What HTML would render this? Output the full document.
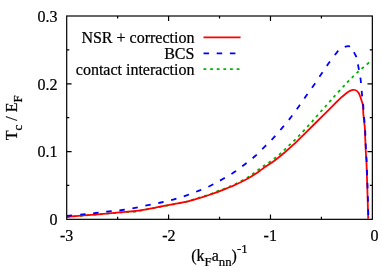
<!DOCTYPE html>
<html><head><meta charset="utf-8"><title>Tc/EF</title>
<style>
html,body{margin:0;padding:0;background:#fff;}
body{width:382px;height:267px;overflow:hidden;font-family:"Liberation Serif",serif;}
</style></head><body>
<svg width="382" height="267" viewBox="0 0 382 267" style="display:block;will-change:transform">
<rect x="0" y="0" width="382" height="267" fill="#fff"/>
<defs><clipPath id="c"><rect x="66.70" y="16.00" width="305.65" height="203.33"/></clipPath></defs>
<g fill="none" stroke-width="1.8" stroke-linejoin="round" clip-path="url(#c)">
<path d="M66.85,216.95C72.04,216.53 89.31,215.17 98.00,214.45C106.69,213.72 112.87,213.07 119.00,212.60C125.13,212.12 131.30,211.92 134.80,211.60C138.30,211.28 137.47,211.17 140.00,210.70C142.53,210.23 146.67,209.43 150.00,208.80C153.33,208.17 155.67,207.73 160.00,206.90C164.33,206.07 171.50,204.70 176.00,203.80C180.50,202.90 183.15,202.52 187.00,201.50C190.85,200.48 195.07,198.97 199.10,197.70C203.13,196.43 208.18,194.97 211.20,193.90C214.22,192.83 214.90,192.20 217.20,191.30C219.50,190.40 221.87,189.75 225.00,188.50C228.13,187.25 232.25,185.63 236.00,183.80C239.75,181.97 244.62,179.20 247.50,177.50C250.38,175.80 251.42,174.93 253.30,173.60C255.18,172.27 256.97,170.83 258.80,169.50C260.63,168.17 262.50,166.83 264.30,165.60C266.10,164.37 267.83,163.35 269.60,162.10C271.37,160.85 273.17,159.47 274.90,158.10C276.63,156.73 278.37,155.32 280.00,153.90C281.63,152.48 283.15,151.05 284.70,149.60C286.25,148.15 287.68,146.73 289.30,145.20C290.92,143.67 292.77,141.98 294.40,140.40C296.03,138.82 297.57,137.28 299.10,135.70C300.63,134.12 302.08,132.55 303.60,130.90C305.12,129.25 306.70,127.43 308.20,125.80C309.70,124.17 311.15,122.73 312.60,121.10C314.05,119.47 315.45,117.68 316.90,116.00C318.35,114.32 319.83,112.63 321.30,111.00C322.77,109.37 324.23,107.83 325.70,106.20C327.17,104.57 328.63,102.87 330.10,101.20C331.57,99.53 332.32,98.62 334.50,96.20C336.68,93.78 341.00,89.08 343.20,86.70C345.40,84.32 346.15,83.50 347.70,81.90C349.25,80.30 350.92,78.66 352.50,77.10C354.08,75.54 355.57,74.03 357.20,72.55C358.83,71.07 360.60,69.63 362.30,68.20C364.00,66.77 366.18,64.98 367.40,63.95C368.62,62.92 369.23,62.33 369.60,62.00" stroke="#00b400" stroke-dasharray="2.8 3.83"/>
<path d="M66.85,216.80C72.04,216.38 89.31,215.03 98.00,214.30C106.69,213.58 112.67,213.00 119.00,212.45C125.33,211.90 132.50,211.33 136.00,211.00C139.50,210.67 137.67,210.85 140.00,210.45C142.33,210.05 146.67,209.22 150.00,208.60C153.33,207.97 155.67,207.52 160.00,206.70C164.33,205.88 171.50,204.51 176.00,203.65C180.50,202.79 183.33,202.41 187.00,201.55C190.67,200.69 194.33,199.59 198.00,198.50C201.67,197.41 205.67,196.12 209.00,195.00C212.33,193.88 215.33,192.78 218.00,191.80C220.67,190.82 222.00,190.32 225.00,189.10C228.00,187.88 232.33,186.13 236.00,184.45C239.67,182.77 243.67,180.82 247.00,179.00C250.33,177.18 253.33,175.27 256.00,173.50C258.67,171.73 260.00,170.48 263.00,168.40C266.00,166.32 270.33,163.72 274.00,161.00C277.67,158.28 281.67,154.90 285.00,152.10C288.33,149.30 290.50,147.48 294.00,144.20C297.50,140.92 302.25,136.10 306.00,132.40C309.75,128.70 313.47,125.00 316.50,122.00C319.53,119.00 321.62,116.97 324.20,114.40C326.78,111.83 329.25,109.35 332.00,106.60C334.75,103.85 338.37,100.08 340.70,97.90C343.03,95.72 344.65,94.57 346.00,93.50C347.35,92.43 347.97,92.03 348.80,91.50C349.63,90.97 350.28,90.58 351.00,90.30C351.72,90.02 352.43,89.85 353.10,89.80C353.77,89.75 354.38,89.82 355.00,90.00C355.62,90.18 356.18,90.40 356.80,90.90C357.42,91.40 358.08,91.95 358.70,93.00C359.32,94.05 359.95,95.72 360.50,97.20C361.05,98.68 361.62,100.60 362.00,101.90C362.38,103.20 362.62,103.90 362.80,105.00C362.98,106.10 363.00,106.93 363.10,108.50C363.20,110.07 363.18,111.83 363.40,114.40C363.62,116.97 364.16,121.63 364.40,123.90C364.64,126.17 364.70,125.27 364.85,128.00C365.00,130.73 365.14,136.38 365.30,140.30C365.46,144.22 365.61,147.84 365.80,151.50C365.99,155.16 366.27,158.33 366.45,162.25C366.63,166.17 366.77,171.32 366.90,175.00C367.02,178.68 367.08,180.63 367.20,184.30C367.32,187.97 367.48,193.01 367.60,197.00C367.72,200.99 367.80,204.65 367.90,208.25C368.00,211.85 368.15,216.88 368.20,218.60" stroke="#ff0000"/>
</g>
<defs><clipPath id="c1"><rect x="66.70" y="16.00" width="284.30" height="203.33"/></clipPath>
<clipPath id="c2"><rect x="351.00" y="16.00" width="21.35" height="203.33"/></clipPath></defs>
<g fill="none" stroke-width="1.8" stroke-linejoin="round" stroke="#0000ff" stroke-dasharray="5.5 7.7">
<path d="M66.85,215.90C69.46,215.65 77.67,214.88 82.50,214.40C87.33,213.92 91.38,213.50 95.80,213.00C100.22,212.50 104.60,211.90 109.00,211.40C113.40,210.90 117.85,210.58 122.20,210.00C126.55,209.42 130.78,208.72 135.10,207.90C139.42,207.08 143.77,206.00 148.10,205.10C152.43,204.20 156.78,203.47 161.10,202.50C165.42,201.53 169.73,200.50 174.00,199.30C178.27,198.10 182.52,196.75 186.70,195.30C190.88,193.85 194.98,192.27 199.10,190.60C203.22,188.93 207.45,187.23 211.40,185.30C215.35,183.37 218.98,181.20 222.80,179.00C226.62,176.80 230.60,174.57 234.30,172.10C238.00,169.63 241.52,166.88 245.00,164.20C248.48,161.52 251.92,158.92 255.20,156.00C258.48,153.08 261.58,149.80 264.70,146.70C267.82,143.60 270.92,140.63 273.90,137.40C276.88,134.17 279.73,130.70 282.60,127.30C285.47,123.90 288.40,120.47 291.10,117.00C293.80,113.53 296.25,110.08 298.80,106.50C301.35,102.92 303.87,99.10 306.40,95.50C308.93,91.90 311.48,88.52 314.00,84.90C316.52,81.28 319.00,77.48 321.50,73.80C324.00,70.12 326.43,66.38 329.00,62.80C331.57,59.22 335.07,54.50 336.90,52.30C338.73,50.10 338.87,50.42 340.00,49.60C341.13,48.78 342.62,47.93 343.70,47.40C344.78,46.87 345.67,46.60 346.50,46.40C347.33,46.20 348.03,46.00 348.70,46.20C349.37,46.40 349.95,47.07 350.50,47.60C351.05,48.13 351.48,48.68 352.00,49.40C352.52,50.12 353.07,51.03 353.60,51.90C354.13,52.77 354.75,53.77 355.20,54.60C355.65,55.43 355.93,55.92 356.30,56.90C356.67,57.88 357.07,58.92 357.40,60.50C357.73,62.08 357.78,63.40 358.30,66.40C358.82,69.40 359.90,73.98 360.50,78.50C361.10,83.02 361.45,89.08 361.90,93.50C362.35,97.92 362.88,101.52 363.20,105.00C363.52,108.48 363.55,111.25 363.80,114.40C364.05,117.55 364.48,121.63 364.70,123.90C364.92,126.17 364.96,125.27 365.10,128.00C365.24,130.73 365.39,136.38 365.55,140.30C365.71,144.22 365.86,147.84 366.05,151.50C366.24,155.16 366.52,158.33 366.70,162.25C366.88,166.17 367.02,171.32 367.15,175.00C367.27,178.68 367.33,180.63 367.45,184.30C367.57,187.97 367.73,193.01 367.85,197.00C367.97,200.99 368.06,204.65 368.15,208.25C368.24,211.85 368.36,216.88 368.40,218.60" clip-path="url(#c1)"/>
<path d="M66.85,215.90C69.46,215.65 77.67,214.88 82.50,214.40C87.33,213.92 91.38,213.50 95.80,213.00C100.22,212.50 104.60,211.90 109.00,211.40C113.40,210.90 117.85,210.58 122.20,210.00C126.55,209.42 130.78,208.72 135.10,207.90C139.42,207.08 143.77,206.00 148.10,205.10C152.43,204.20 156.78,203.47 161.10,202.50C165.42,201.53 169.73,200.50 174.00,199.30C178.27,198.10 182.52,196.75 186.70,195.30C190.88,193.85 194.98,192.27 199.10,190.60C203.22,188.93 207.45,187.23 211.40,185.30C215.35,183.37 218.98,181.20 222.80,179.00C226.62,176.80 230.60,174.57 234.30,172.10C238.00,169.63 241.52,166.88 245.00,164.20C248.48,161.52 251.92,158.92 255.20,156.00C258.48,153.08 261.58,149.80 264.70,146.70C267.82,143.60 270.92,140.63 273.90,137.40C276.88,134.17 279.73,130.70 282.60,127.30C285.47,123.90 288.40,120.47 291.10,117.00C293.80,113.53 296.25,110.08 298.80,106.50C301.35,102.92 303.87,99.10 306.40,95.50C308.93,91.90 311.48,88.52 314.00,84.90C316.52,81.28 319.00,77.48 321.50,73.80C324.00,70.12 326.43,66.38 329.00,62.80C331.57,59.22 335.07,54.50 336.90,52.30C338.73,50.10 338.87,50.42 340.00,49.60C341.13,48.78 342.62,47.93 343.70,47.40C344.78,46.87 345.67,46.60 346.50,46.40C347.33,46.20 348.03,46.00 348.70,46.20C349.37,46.40 349.95,47.07 350.50,47.60C351.05,48.13 351.48,48.68 352.00,49.40C352.52,50.12 353.07,51.03 353.60,51.90C354.13,52.77 354.75,53.77 355.20,54.60C355.65,55.43 355.93,55.92 356.30,56.90C356.67,57.88 357.07,58.92 357.40,60.50C357.73,62.08 357.78,63.40 358.30,66.40C358.82,69.40 359.90,73.98 360.50,78.50C361.10,83.02 361.45,89.08 361.90,93.50C362.35,97.92 362.88,101.52 363.20,105.00C363.52,108.48 363.55,111.25 363.80,114.40C364.05,117.55 364.48,121.63 364.70,123.90C364.92,126.17 364.96,125.27 365.10,128.00C365.24,130.73 365.39,136.38 365.55,140.30C365.71,144.22 365.86,147.84 366.05,151.50C366.24,155.16 366.52,158.33 366.70,162.25C366.88,166.17 367.02,171.32 367.15,175.00C367.27,178.68 367.33,180.63 367.45,184.30C367.57,187.97 367.73,193.01 367.85,197.00C367.97,200.99 368.06,204.65 368.15,208.25C368.24,211.85 368.36,216.88 368.40,218.60" clip-path="url(#c2)" stroke-dashoffset="1.0"/>
</g>
<g fill="none" stroke-width="1.8">
<path d="M203.5,37.45H240.6" stroke="#ff0000"/>
<path d="M203.5,53.4H240.6" stroke="#0000ff" stroke-dasharray="5.5 7.7"/>
<path d="M203.5,69.1H240.6" stroke="#00b400" stroke-dasharray="2.8 3.83"/>
</g>
<g fill="none" stroke="#000" stroke-width="1.20">
<rect x="66.70" y="16.00" width="305.65" height="203.33"/>
<path d="M66.70,185.44h2.60M372.35,185.44h-2.60M66.70,151.55h4.90M372.35,151.55h-4.90M66.70,117.67h2.60M372.35,117.67h-2.60M66.70,83.78h4.90M372.35,83.78h-4.90M66.70,49.89h2.60M372.35,49.89h-2.60M117.64,219.33v-2.60M117.64,16.00v2.60M168.58,219.33v-4.90M168.58,16.00v4.90M219.53,219.33v-2.60M219.53,16.00v2.60M270.47,219.33v-4.90M270.47,16.00v4.90M321.41,219.33v-2.60M321.41,16.00v2.60"/>
</g>
<g font-family="'Liberation Serif', serif" font-size="16.00" fill="#000" stroke="#000" stroke-width="0.22">
<text x="57.6" y="224.60" text-anchor="end">0</text>
<text x="57.6" y="157.15" text-anchor="end">0.1</text>
<text x="57.6" y="89.50" text-anchor="end">0.2</text>
<text x="57.6" y="22.00" text-anchor="end">0.3</text>
<text x="66.70" y="241.1" text-anchor="middle">-3</text>
<text x="168.88" y="241.1" text-anchor="middle">-2</text>
<text x="270.27" y="241.1" text-anchor="middle">-1</text>
<text x="374.45" y="241.1" text-anchor="middle">0</text>
<text x="194.4" y="43.2" text-anchor="end">NSR + correction</text>
<text x="194.4" y="58.95" text-anchor="end">BCS</text>
<text x="194.4" y="74.6" text-anchor="end">contact interaction</text>
<text x="191.2" y="261.2">(k<tspan font-size="12.80" dy="4.7">F</tspan><tspan dy="-4.7">a</tspan><tspan font-size="12.80" dy="4.7">nn</tspan><tspan dy="-4.7">)</tspan><tspan font-size="12.80" dy="-8.2">-1</tspan></text>
<text transform="translate(16.7,140.2) rotate(-90)">T<tspan font-size="12.80" dy="4.9">c</tspan><tspan dy="-4.9"> / E</tspan><tspan font-size="12.80" dy="4.9">F</tspan></text>
</g>
</svg>
</body></html>
